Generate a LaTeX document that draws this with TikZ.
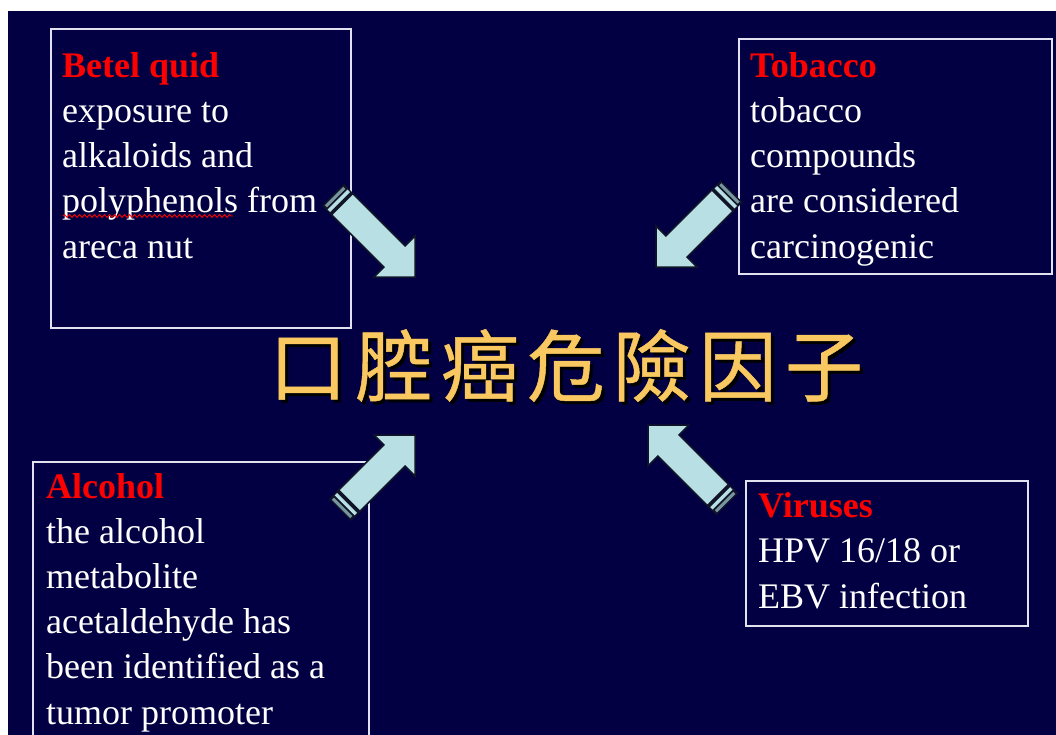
\documentclass[tikz,border=0pt]{standalone}
\usepackage{fontspec}
\setmainfont{Liberation Serif}
\newfontfamily\cjkfont[FakeBold=0.6]{Noto Sans CJK TC}
\usetikzlibrary{decorations.pathmorphing}
\definecolor{navybg}{RGB}{2,0,66}
\definecolor{arrowfill}{RGB}{184,224,228}
\definecolor{arrowedge}{RGB}{16,20,40}
\definecolor{stripegrey}{RGB}{120,150,160}
\definecolor{titlegold}{RGB}{250,200,96}
\definecolor{boxline}{RGB}{225,225,240}
\definecolor{headred}{RGB}{255,0,0}
\def\arrlen{108}
\newcommand\titlestring{口\hspace{8pt}腔\hspace{8pt}癌\hspace{8pt}危\hspace{8pt}險\hspace{8pt}因\hspace{8pt}子}
\tikzset{
  arr len/.code={\def\arrlen{#1}},
  infobox/.style={draw=boxline, line width=1.6pt, inner sep=0pt, anchor=north west},
  infotext/.style={text=white, anchor=base west, inner sep=0pt, align=left,
    font=\fontsize{36}{45.2}\selectfont},
  titletext/.style={font=\cjkfont\fontsize{78}{78}\selectfont, inner sep=0pt, text=titlegold},
  blockarrow/.pic={
    \fill[arrowedge] ({-\arrlen+13},-15.5) rectangle ({-\arrlen},15.5);
    \fill[arrowfill] ({-\arrlen+10},-14) rectangle ({-\arrlen+6.5},14);
    \fill[stripegrey] ({-\arrlen+4.5},-13) rectangle ({-\arrlen+1.5},13);
    \filldraw[fill=arrowfill, draw=arrowedge, line width=1.5pt, line join=miter]
      (0,0) -- (-29,29) -- (-29,15) -- ({-\arrlen+13},15) -- ({-\arrlen+13},-15)
      -- (-29,-15) -- (-29,-29) -- cycle;
  }
}
\begin{document}
\begin{tikzpicture}[x=1pt,y=-1pt]
\useasboundingbox (0,0) rectangle (1056,735);
\clip (0,0) rectangle (1056,735);
\fill[white] (0,0) rectangle (1056,735);
\fill[navybg] (8,11) rectangle (1056,735);

% boxes
\node (betelbox) [infobox, minimum width=300pt, minimum height=299pt] at (50,28) {};
\node (tobaccobox) [infobox, minimum width=313pt, minimum height=235pt] at (738,38) {};
\node (alcoholbox) [infobox, minimum width=336pt, minimum height=330pt] at (32,461) {};
\node (virusbox) [infobox, minimum width=282pt, minimum height=145pt] at (745,480) {};

% texts (anchored at the baseline of the last line)
\node (beteltext) [infotext] at (62,258) {{\color{headred}\bfseries Betel quid}\\exposure to\\alkaloids and\\polyphenols from\\areca nut};
\node (tobaccotext) [infotext] at (750,258) {{\color{headred}\bfseries Tobacco}\\tobacco\\compounds\\are considered\\carcinogenic};
\node (alcoholtext) [infotext] at (46,724) {{\color{headred}\bfseries Alcohol}\\the alcohol\\metabolite\\acetaldehyde has\\been identified as a\\tumor promoter};
\node (virustext) [infotext] at (758,608) {{\color{headred}\bfseries Viruses}\\HPV 16/18 or\\EBV infection};

% spell-check underline
\coordinate (wavyA) at (63,216);
\coordinate (wavyB) at (233,216);
\draw[headred, line width=0.9pt, decorate, decoration={snake, amplitude=1.4pt, segment length=5pt}] (wavyA) -- (wavyB);

% title with drop shadow in one node
\node (title) [titletext] at (566,367) {\makebox[0pt][l]{\kern3pt\raisebox{-3pt}{\color{black}\titlestring}}\titlestring};

% arrows
\coordinate (tipA) at (415,277);
\coordinate (tipB) at (656,267);
\coordinate (tipC) at (415,435);
\coordinate (tipD) at (648,425);
\pic[rotate=-45, arr len=116] at (tipA) {blockarrow};
\pic[rotate=-135, arr len=107] at (tipB) {blockarrow};
\pic[rotate=45, arr len=106] at (tipC) {blockarrow};
\pic[rotate=135, arr len=112] at (tipD) {blockarrow};
\end{tikzpicture}
\end{document}
